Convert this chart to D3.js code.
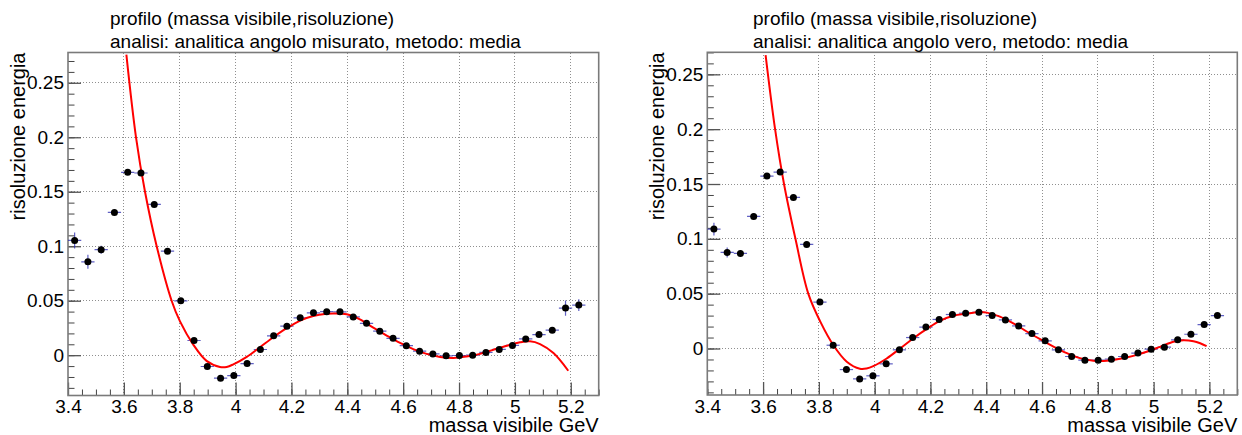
<!DOCTYPE html>
<html>
<head>
<meta charset="utf-8">
<script src="https://cdn.jsdelivr.net/npm/d3@7"></script>
<style>
  body { margin: 0; background: #fff; }
  svg { display: block; }
  text { font-family: "Liberation Sans", Arial, Helvetica, sans-serif; fill: #000; }
</style>
</head>
<body>
<svg id="chart" width="1242" height="435"></svg>
<script>
// Profile bins: 40 bins of 0.0475 GeV between 3.4 and 5.3 (last bin empty)
const binCenters = [
  3.42375, 3.47125, 3.51875, 3.56625, 3.61375, 3.66125, 3.70875, 3.75625, 3.80375, 3.85125,
  3.89875, 3.94625, 3.99375, 4.04125, 4.08875, 4.13625, 4.18375, 4.23125, 4.27875, 4.32625,
  4.37375, 4.42125, 4.46875, 4.51625, 4.56375, 4.61125, 4.65875, 4.70625, 4.75375, 4.80125,
  4.84875, 4.89625, 4.94375, 4.99125, 5.03875, 5.08625, 5.13375, 5.18125, 5.22875
];
const binHalfWidth = 0.02375;
const massRange = [3.4, 5.3];

const xTickValues = [3.4, 3.6, 3.8, 4.0, 4.2, 4.4, 4.6, 4.8, 5.0, 5.2];
const xTickLabels = ["3.4", "3.6", "3.8", "4", "4.2", "4.4", "4.6", "4.8", "5", "5.2"];
const yTickValues = [0, 0.05, 0.1, 0.15, 0.2, 0.25];
const yTickLabels = ["0", "0.05", "0.1", "0.15", "0.2", "0.25"];

// analisi: analitica angolo misurato
const misuratoValues = [
  0.1053, 0.0857, 0.0968, 0.1310, 0.1678, 0.1672, 0.1384, 0.0955, 0.0499, 0.0135,
  -0.0104, -0.0211, -0.0187, -0.0077, 0.0052, 0.0178, 0.0266, 0.0343, 0.0389, 0.0399,
  0.0398, 0.0351, 0.0292, 0.0220, 0.0155, 0.0087, 0.0037, 0.0012, -0.0006, -0.0003,
  0.0000, 0.0025, 0.0053, 0.0090, 0.0149, 0.0189, 0.0230, 0.0432, 0.0460
];
const misuratoErrors = [
  0.0073, 0.0064, 0.0037, 0.0012, 0.0010, 0.0010, 0.0010, 0.0010, 0.0008, 0.0008,
  0.0010, 0.0010, 0.0010, 0.0008, 0.0008, 0.0010, 0.0008, 0.0008, 0.0010, 0.0010,
  0.0010, 0.0010, 0.0010, 0.0010, 0.0010, 0.0010, 0.0010, 0.0010, 0.0010, 0.0010,
  0.0010, 0.0010, 0.0012, 0.0012, 0.0015, 0.0015, 0.0025, 0.0070, 0.0054
];
const misuratoFit = [
  [3.609, 0.2759], [3.6435, 0.200], [3.6757, 0.150], [3.7175, 0.100], [3.771, 0.050],
  [3.801, 0.0310], [3.849, 0.0095], [3.896, -0.0052], [3.944, -0.0108], [3.968, -0.0108],
  [3.992, -0.0084], [4.040, -0.0015], [4.087, 0.0073], [4.135, 0.0165], [4.183, 0.0248],
  [4.231, 0.0318], [4.278, 0.0360], [4.326, 0.0380], [4.350, 0.0383], [4.398, 0.0376],
  [4.445, 0.0329], [4.493, 0.0252], [4.541, 0.0180], [4.589, 0.0112], [4.636, 0.0056],
  [4.684, 0.0012], [4.732, -0.0016], [4.780, -0.0025], [4.827, -0.0012], [4.875, 0.0012],
  [4.923, 0.0050], [4.971, 0.0087], [5.018, 0.0118], [5.054, 0.0127], [5.090, 0.0102],
  [5.138, 0.0019], [5.191, -0.0143]
];

// analisi: analitica angolo vero
const veroValues = [
  0.1089, 0.0876, 0.0867, 0.1204, 0.1572, 0.1609, 0.1378, 0.0949, 0.0423, 0.0030,
  -0.0192, -0.0277, -0.0249, -0.0140, -0.0012, 0.0100, 0.0195, 0.0265, 0.0310, 0.0322,
  0.0330, 0.0300, 0.0261, 0.0206, 0.0136, 0.0070, -0.0012, -0.0073, -0.0106, -0.0106,
  -0.0097, -0.0073, -0.0042, -0.0006, 0.0012, 0.0079, 0.0130, 0.0218, 0.0300
];
const veroErrors = [
  0.0058, 0.0046, 0.0030, 0.0012, 0.0010, 0.0010, 0.0010, 0.0010, 0.0008, 0.0008,
  0.0010, 0.0010, 0.0010, 0.0008, 0.0008, 0.0010, 0.0008, 0.0008, 0.0008, 0.0008,
  0.0008, 0.0008, 0.0008, 0.0008, 0.0008, 0.0008, 0.0008, 0.0008, 0.0008, 0.0008,
  0.0008, 0.0008, 0.0008, 0.0010, 0.0010, 0.0010, 0.0012, 0.0012, 0.0012
];
const veroFit = [
  [3.609, 0.2676], [3.643, 0.200], [3.675, 0.150], [3.716, 0.100], [3.762, 0.050],
  [3.806, 0.0240], [3.852, 0.0030], [3.900, -0.0120], [3.947, -0.0184], [3.971, -0.0182],
  [3.995, -0.0161], [4.043, -0.0091], [4.091, 0.0000], [4.139, 0.0094], [4.187, 0.0179],
  [4.234, 0.0252], [4.282, 0.0298], [4.330, 0.0318], [4.378, 0.0333], [4.402, 0.0327],
  [4.449, 0.0291], [4.497, 0.0230], [4.545, 0.0155], [4.593, 0.0085], [4.641, 0.0018],
  [4.689, -0.0042], [4.736, -0.0088], [4.784, -0.0112], [4.808, -0.0115], [4.832, -0.0112],
  [4.880, -0.0094], [4.927, -0.0067], [4.975, -0.0030], [5.023, 0.0015], [5.071, 0.0061],
  [5.107, 0.0076], [5.143, 0.0067], [5.167, 0.0048], [5.190, 0.0021]
];

const titleLine1 = "profilo (massa visibile,risoluzione)";
const subtitles = [
  "analisi: analitica angolo misurato, metodo: media",
  "analisi: analitica angolo vero, metodo: media"
];
const xTitle = "massa visibile GeV";
const yTitle = "risoluzione energia";

const panels = [
  { id: "mis", frame: { left: 68, right: 598.7, top: 52.5, bottom: 395.5 }, yDomain: [-0.0370, 0.2778],
    titleX: 110, subtitle: subtitles[0], values: misuratoValues, errors: misuratoErrors, fit: misuratoFit },
  { id: "ver", frame: { left: 707.3, right: 1237.3, top: 52.3, bottom: 395 }, yDomain: [-0.0424, 0.2701],
    titleX: 753, subtitle: subtitles[1], values: veroValues, errors: veroErrors, fit: veroFit }
];

const svg = d3.select("#chart");
svg.append("rect").attr("width", 1242).attr("height", 435).attr("fill", "#fff");

function minorTicks(lo, hi, step) {
  const out = [];
  const n0 = Math.ceil(lo / step - 1e-9), n1 = Math.floor(hi / step + 1e-9);
  for (let k = n0; k <= n1; k++) out.push(+(k * step).toFixed(6));
  return out;
}

panels.forEach(p => {
  const f = p.frame;
  const x = d3.scaleLinear().domain(massRange).range([f.left, f.right]);
  const y = d3.scaleLinear().domain(p.yDomain).range([f.bottom, f.top]);
  const g = svg.append("g");

  // dotted grid at major ticks
  const grid = g.append("g").attr("stroke", "#8f8f8f").attr("stroke-width", 1)
    .attr("stroke-dasharray", "1,2").attr("shape-rendering", "crispEdges");
  grid.selectAll("line.gx").data(xTickValues.filter(v => v > massRange[0])).join("line")
    .attr("x1", d => x(d)).attr("x2", d => x(d)).attr("y1", f.top).attr("y2", f.bottom);
  grid.selectAll("line.gy").data(yTickValues).join("line")
    .attr("x1", f.left).attr("x2", f.right).attr("y1", d => y(d)).attr("y2", d => y(d));

  // minor ticks (inside the frame)
  const yMinor = minorTicks(p.yDomain[0], p.yDomain[1], 0.01);
  const xMinor = minorTicks(massRange[0], massRange[1], 0.05);
  g.append("g").attr("transform", `translate(${f.left},0)`)
    .call(d3.axisLeft(y).tickValues(yMinor).tickSize(-6.5).tickFormat(""))
    .call(a => a.select(".domain").remove())
    .selectAll("line").attr("stroke", "#444");
  g.append("g").attr("transform", `translate(0,${f.bottom})`)
    .call(d3.axisBottom(x).tickValues(xMinor).tickSize(-6).tickFormat(""))
    .call(a => a.select(".domain").remove())
    .selectAll("line").attr("stroke", "#444");

  // major ticks and labels
  const yAx = g.append("g").attr("transform", `translate(${f.left},0)`)
    .call(d3.axisLeft(y).tickValues(yTickValues).tickSize(-13).tickPadding(4)
      .tickFormat((d, i) => yTickLabels[i]));
  yAx.select(".domain").remove();
  yAx.selectAll("line").attr("stroke", "#555").attr("stroke-width", 1.3);
  yAx.selectAll("text").attr("font-size", 19).attr("font-family", null).attr("fill", "#000");

  const xAx = g.append("g").attr("transform", `translate(0,${f.bottom})`)
    .call(d3.axisBottom(x).tickValues(xTickValues).tickSize(-13).tickPadding(4.5)
      .tickFormat((d, i) => xTickLabels[i]));
  xAx.select(".domain").remove();
  xAx.selectAll("line").attr("stroke", "#555").attr("stroke-width", 1.3);
  xAx.selectAll("text").attr("font-size", 19).attr("font-family", null).attr("fill", "#000");

  // frame
  g.append("rect").attr("x", f.left).attr("y", f.top)
    .attr("width", f.right - f.left).attr("height", f.bottom - f.top)
    .attr("fill", "none").attr("stroke", "#7a7a7a").attr("stroke-width", 1.6);

  // clip region
  const clipId = "clip-" + p.id;
  svg.append("clipPath").attr("id", clipId).append("rect")
    .attr("x", f.left).attr("y", f.top).attr("width", f.right - f.left).attr("height", f.bottom - f.top);
  const plot = g.append("g").attr("clip-path", `url(#${clipId})`);

  const pts = binCenters.map((c, i) => ({ c, v: p.values[i], e: p.errors[i] }));

  // error bars
  const eb = plot.append("g").attr("stroke", "#2b2bb0").attr("stroke-width", 1.2).attr("stroke-opacity", 0.75);
  eb.selectAll("line.h").data(pts).join("line")
    .attr("x1", d => x(d.c - binHalfWidth)).attr("x2", d => x(d.c + binHalfWidth))
    .attr("y1", d => y(d.v)).attr("y2", d => y(d.v));
  eb.selectAll("line.v").data(pts).join("line")
    .attr("x1", d => x(d.c)).attr("x2", d => x(d.c))
    .attr("y1", d => y(d.v - d.e)).attr("y2", d => y(d.v + d.e));

  // fit curve
  plot.append("path").datum(p.fit)
    .attr("fill", "none").attr("stroke", "#ff0000").attr("stroke-width", 2)
    .attr("d", d3.line().x(d => x(d[0])).y(d => y(d[1])).curve(d3.curveCatmullRom.alpha(0.5)));

  // markers
  plot.append("g").selectAll("circle").data(pts).join("circle")
    .attr("cx", d => x(d.c)).attr("cy", d => y(d.v)).attr("r", 3.5).attr("fill", "#000");

  // titles
  svg.append("text").attr("x", p.titleX).attr("y", 25).attr("font-size", 19).text(titleLine1);
  svg.append("text").attr("x", p.titleX).attr("y", 47.5).attr("font-size", 19).text(p.subtitle);

  svg.append("text").attr("x", f.right).attr("y", 431.5).attr("text-anchor", "end")
    .attr("font-size", 20).text(xTitle);
  svg.append("text").attr("transform", `translate(${f.left - 43},${f.top}) rotate(-90)`)
    .attr("text-anchor", "end").attr("font-size", 20).text(yTitle);
});
</script>
</body>
</html>
